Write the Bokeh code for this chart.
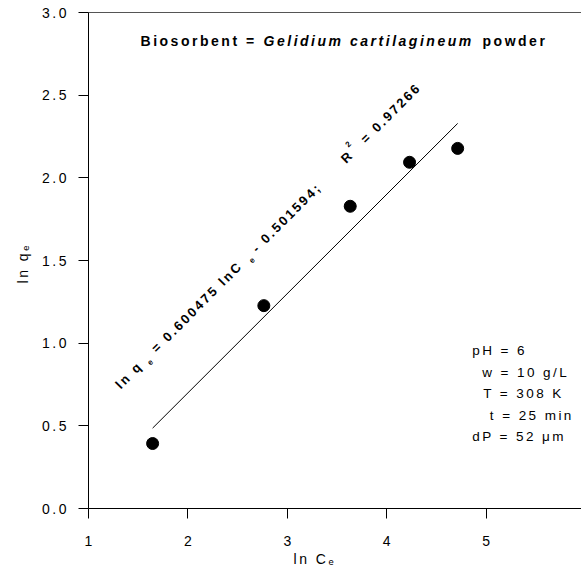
import math

from bokeh.embed import file_html
from bokeh.models import FixedTicker, Label, LinearAxis, PrintfTickFormatter, Range1d, Title
from bokeh.plotting import figure
from bokeh.resources import INLINE

# Freundlich isotherm data (natural logs)
ln_ce = [1.645, 2.764, 3.633, 4.230, 4.714]
ln_qe = [0.393, 1.227, 1.828, 2.094, 2.178]

# linear fit reported for the isotherm
slope = 0.600475
intercept = -0.501594
r_squared = 0.97266

x_ticks = [1, 2, 3, 4, 5, 6]
y_ticks = [0.0, 0.5, 1.0, 1.5, 2.0, 2.5, 3.0]

title_parts = ["Biosorbent = ", "Gelidium cartilagineum", "powder"]
conditions = ["pH = 6", "w = 10 g/L", "T = 308 K", "t = 25 min", "dP = 52 \u03bcm"]
x_title = "ln C\u2091"
y_title = "ln q\u2091"

# ---- layout (canvas pixels) ----
W, H = 581, 575
FL, FR, FT, FB = 88, 581, 12, 508
X0 = 1.0
X1 = X0 + (FR - FL) / 99.4
Y0, Y1 = 0.0, 3.0
FONT = "Liberation Sans"


def to_data(px, py):
    x = X0 + (px - FL) / (FR - FL) * (X1 - X0)
    y = Y1 - (py - FT) / (FB - FT) * (Y1 - Y0)
    return x, y


p = figure(
    width=W, height=H,
    x_range=Range1d(X0, X1), y_range=Range1d(Y0, Y1),
    output_backend="svg", toolbar_location=None,
    min_border_left=FL, min_border_right=W - FR,
    min_border_top=FT, min_border_bottom=H - FB,
    outline_line_color=None,
    background_fill_color="white", border_fill_color="white",
)
p.grid.visible = False

for ax in (p.xaxis[0], p.yaxis[0]):
    ax.axis_line_color = "black"
    ax.axis_line_width = 1
    ax.major_tick_line_color = "black"
    ax.major_tick_out = 10
    ax.major_tick_in = 0
    ax.minor_tick_out = 0
    ax.minor_tick_in = 0
    ax.major_label_text_font = FONT
    ax.major_label_text_font_size = "14px"
    ax.major_label_text_color = "black"

p.xaxis.ticker = FixedTicker(ticks=x_ticks)
p.yaxis.ticker = FixedTicker(ticks=y_ticks)
p.yaxis.formatter = PrintfTickFormatter(format="%.1f")
p.xaxis.major_label_standoff = 17
p.yaxis.major_label_standoff = 17

# axis titles sit off the frame centre, so they are placed as side titles
p.add_layout(Title(
    text=x_title, align="left", offset=205, standoff=0,
    text_font=FONT, text_font_size="14px", text_font_style="normal",
    text_color="black",
), "below")
p.add_layout(Title(
    text=y_title, align="left", offset=225, standoff=17,
    text_font=FONT, text_font_size="14px", text_font_style="normal",
    text_color="black",
), "left")

top = LinearAxis(
    ticker=FixedTicker(ticks=[]),
    axis_line_color="#555555",
    major_tick_out=0, major_tick_in=0, minor_tick_out=0, minor_tick_in=0,
    major_label_text_font_size="0px",
)
p.add_layout(top, "above")

# regression line over the measured range
fit_x = [min(ln_ce), max(ln_ce)]
fit_y = [slope * v + intercept for v in fit_x]
p.line(fit_x, fit_y, line_color="black", line_width=1)

p.scatter(ln_ce, ln_qe, size=12, fill_color="black", line_color="black")


def add_text(px, py, text, size, style="normal", angle=0.0,
             align="left", baseline="alphabetic"):
    x, y = to_data(px, py)
    p.add_layout(Label(
        x=x, y=y, text=text, text_font=FONT, text_font_size=f"{size}px",
        text_font_style=style, angle=angle, text_align=align,
        text_baseline=baseline, text_color="black",
    ))


# title
add_text(140, 40, title_parts[0], 14, "bold")
add_text(263, 40, title_parts[1], 14, "bold italic")
add_text(482, 40, title_parts[2], 14, "bold")

# equation written along the fitted line (45 degrees)
ang = math.pi / 4
ox, oy = 117.0, 386.0
ux, uy = math.cos(ang), -math.sin(ang)
nx, ny = math.sin(ang), math.cos(ang)


def along(s, n, text, size):
    add_text(ox + s * ux + n * nx, oy + s * uy + n * ny, text, size, "bold",
             angle=ang, baseline="middle")


eq_size = 13
along(0, 0, "ln q", eq_size)
along(38, 6, "e", 8)
along(51, 0, f"= {slope:.6f} lnC", eq_size)
along(182, 6, "e", 8)
along(193, 0, f"- {abs(intercept):.6f};", eq_size)
along(319, 0, "R", eq_size)
along(332, -8, "2", 8)
along(347, 0, f"= {r_squared:.5f}", eq_size)

# experimental conditions
cond_x = [471.7, 481.7, 482.7, 489.3, 471.7]
cond_y = [350, 371.5, 393, 414.5, 436]
for cx, cy, txt in zip(cond_x, cond_y, conditions):
    add_text(cx, cy, txt, 13.5)

SPACING = """
{% block postamble %}
<script>
(function () {
  function spread(root) {
    root.querySelectorAll("text").forEach(function (t) {
      t.style.letterSpacing = "0.18em";
    });
    root.querySelectorAll("*").forEach(function (el) {
      if (el.shadowRoot) spread(el.shadowRoot);
    });
  }
  setInterval(function () { spread(document); }, 60);
})();
</script>
{% endblock %}
"""

open("out.html", "w").write(file_html(p, INLINE, template=SPACING))
